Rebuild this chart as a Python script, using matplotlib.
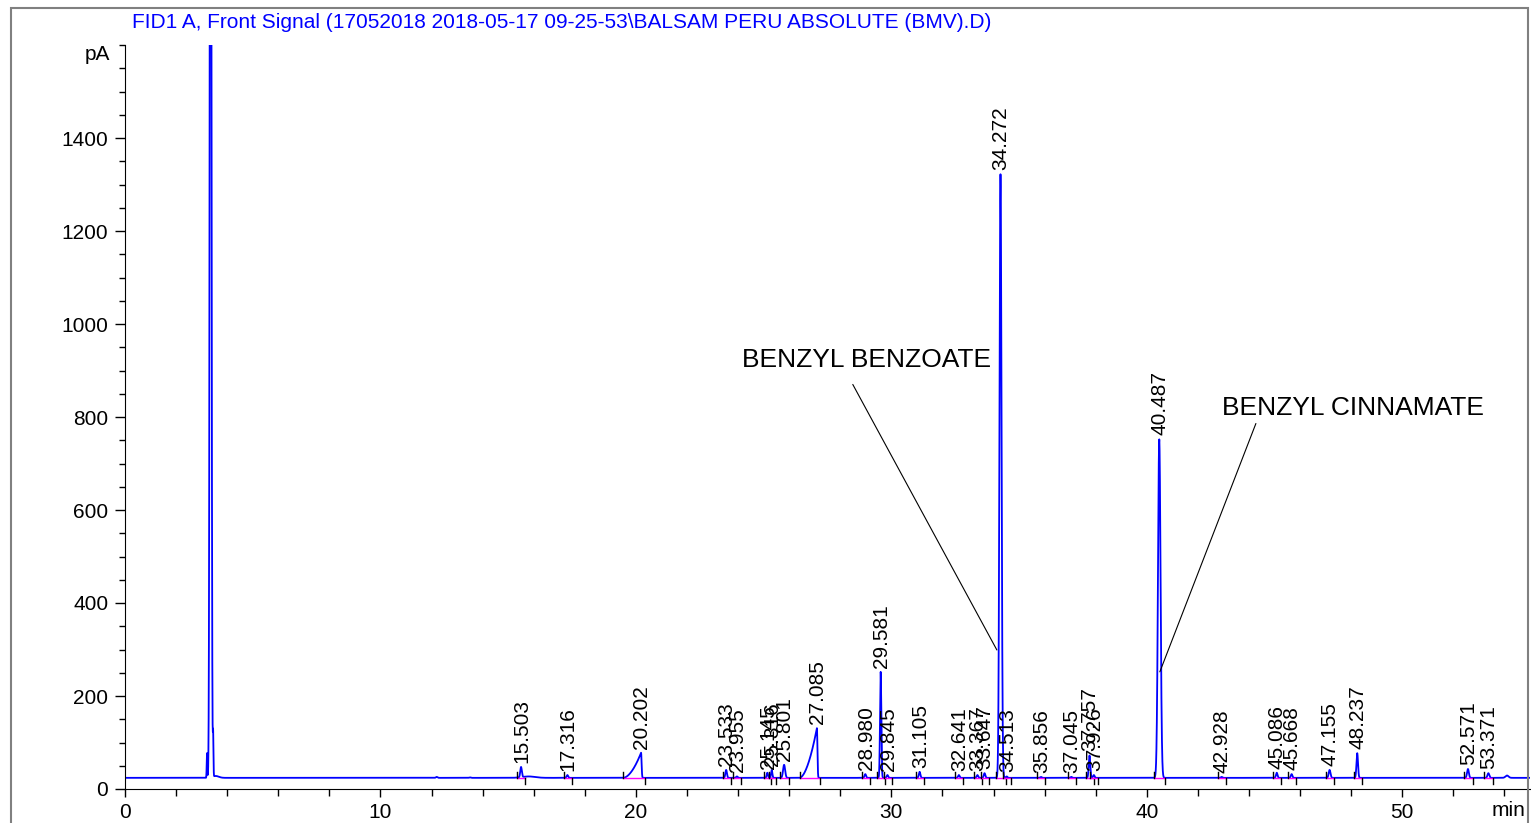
import numpy as np
import matplotlib
matplotlib.use('Agg')
import matplotlib.pyplot as plt
import matplotlib.ticker as mticker
from matplotlib.patches import Rectangle

#----------------------------------------------------------------------------
# Data (retention time in min, apex height in pA)
#----------------------------------------------------------------------------

TITLE = r'FID1 A, Front Signal (17052018 2018-05-17 09-25-53\BALSAM PERU ABSOLUTE (BMV).D)'

baseline_pA = 24.0

# labelled peaks
peak_rt    = [15.503, 17.316, 20.202, 23.533, 23.955, 25.145, 25.316, 25.801,
              27.085, 28.980, 29.581, 29.845, 31.105, 32.641, 33.367, 33.647,
              34.272, 34.513, 35.856, 37.045, 37.757, 37.926, 40.487, 42.928,
              45.086, 45.668, 47.155, 48.237, 52.571, 53.371]
peak_top   = [46, 30, 78, 41, 27, 35, 41, 52,
              131, 32, 252, 30, 37, 30, 30, 34,
              1322, 27, 26, 26, 72, 30, 752, 26,
              35, 32, 41, 77, 43, 34]
peak_sigma = [0.03, 0.03, 0.02, 0.03, 0.03, 0.025, 0.025, 0.04,
              0.02, 0.03, 0.025, 0.03, 0.03, 0.03, 0.03, 0.03,
              0.04, 0.03, 0.03, 0.03, 0.03, 0.03, 0.05, 0.03,
              0.03, 0.03, 0.035, 0.03, 0.035, 0.035]
peak_front = [0, 0, 0.70, 0, 0, 0, 0, 0,
              0.68, 0, 0, 0, 0, 0, 0, 0,
              0, 0, 0, 0, 0, 0, 0, 0,
              0, 0, 0, 0, 0, 0]

# unlabelled features (solvent front and small bumps)
extra_rt    = [3.21, 3.35, 3.45, 3.55, 12.2, 13.5, 15.8, 54.1]
extra_top   = [77, 3200, 113, 28, 26, 25, 27, 29]
extra_sigma = [0.012, 0.03, 0.012, 0.12, 0.03, 0.03, 0.25, 0.06]

annotations = [
    ('BENZYL BENZOATE',  (24.15, 923), (28.49, 870), (34.13, 299)),
    ('BENZYL CINNAMATE', (42.94, 820), (44.27, 786), (40.51, 252)),
]

x_max, y_max = 55, 1600

plt.rcParams.update({
    'font.family': 'Liberation Sans',
    'font.size'  : 15,
})

#----------------------------------------------------------------------------
# Build trace from the peak table
#----------------------------------------------------------------------------

t = np.arange(0, x_max + 0.002, 0.002)
sig = np.full_like(t, baseline_pA)

for rt, top, s in zip(extra_rt, extra_top, extra_sigma):
    sig += (top - baseline_pA) * np.exp(-0.5 * ((t - rt) / s) ** 2)

for rt, top, s, fr in zip(peak_rt, peak_top, peak_sigma, peak_front):
    h = top - baseline_pA
    if fr > 0:
        rise = (t >= rt - fr) & (t <= rt)
        sig[rise] += h * ((t[rise] - (rt - fr)) / fr) ** 1.8
        fall = t > rt
        sig[fall] += h * np.exp(-0.5 * ((t[fall] - rt) / s) ** 2)
    else:
        sig += h * np.exp(-0.5 * ((t - rt) / s) ** 2)

#----------------------------------------------------------------------------
# Plot
#----------------------------------------------------------------------------

fig = plt.figure(figsize=(15.31, 8.23), dpi=100)
ax = fig.add_axes([125 / 1531, 34 / 823, 1405 / 1531, 744 / 823])

# integration baselines + start/end tick marks
for rt, s, fr in zip(peak_rt, peak_sigma, peak_front):
    start = rt - (fr if fr > 0 else 3 * s + 0.05)
    end = rt + 3 * s + 0.08
    ax.plot([start, end], [baseline_pA, baseline_pA], color='magenta', lw=1, zorder=3)
    ax.plot([start, start], [baseline_pA, baseline_pA + 13], color='black', lw=1, zorder=3)
    ax.plot([end, end], [baseline_pA, baseline_pA - 13], color='black', lw=1, zorder=3)

ax.plot(t, sig, color='#0000ff', lw=1.3, zorder=2)

for rt, top in zip(peak_rt, peak_top):
    ax.annotate(f'{rt:.3f}', xy=(rt, top), xytext=(0.5, 3), textcoords='offset points',
                rotation=90, ha='center', va='bottom', fontsize=15, color='black')

for label, txt_xy, start, end in annotations:
    ax.text(txt_xy[0], txt_xy[1], label, fontsize=19, ha='left', va='center')
    ax.annotate('', xy=end, xytext=start,
                arrowprops=dict(arrowstyle='-', color='black', lw=0.8,
                                shrinkA=0, shrinkB=0))

ax.set_xlim(0, x_max)
ax.set_ylim(0, y_max)
for sp in ['top', 'right']:
    ax.spines[sp].set_visible(False)
ax.spines['left'].set_bounds(0, y_max)

ax.set_xticks([0, 10, 20, 30, 40, 50])
ax.xaxis.set_minor_locator(mticker.MultipleLocator(2))
ax.yaxis.set_major_locator(mticker.FixedLocator([0, 200, 400, 600, 800, 1000, 1200, 1400]))
ax.yaxis.set_minor_locator(mticker.MultipleLocator(50))
ax.tick_params(axis='x', which='major', direction='out', length=6, width=1, pad=4, labelsize=15)
ax.tick_params(axis='x', which='minor', direction='out', length=5, width=1)
ax.tick_params(axis='y', which='major', direction='out', length=7, width=1, pad=5, labelsize=15)
ax.tick_params(axis='y', which='minor', direction='out', length=4, width=1)

ax.text(-0.6, 1580, 'pA', ha='right', va='center', fontsize=15, clip_on=False)
ax.text(1525 / 1531, 13 / 823, 'min', transform=fig.transFigure,
        ha='right', va='center', fontsize=15)

fig.text(132 / 1531, 1 - 22 / 823, TITLE, color='#0000ff', fontsize=15,
         ha='left', va='center')

fig.patches.append(Rectangle((11 / 1531, -0.1), 1517 / 1531, 1.1 - 8 / 823,
                             transform=fig.transFigure, fill=False,
                             edgecolor='#808080', lw=1.5))

fig.savefig('out.png', dpi=100)
